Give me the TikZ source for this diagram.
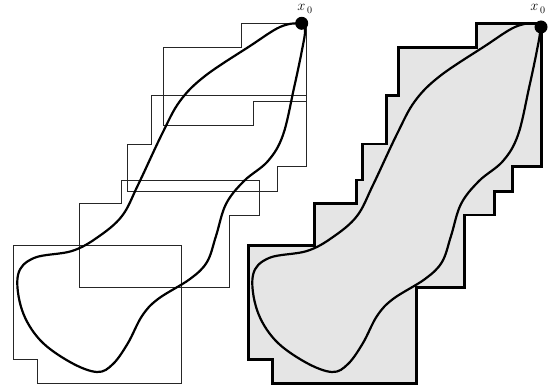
\documentclass[tikz,border=0pt]{standalone}
\usetikzlibrary{calc}
\tikzset{
  thinbox/.style={draw=black!85, line width=0.9pt},
  region/.style={draw=black, line width=2.6pt, fill=black!10, line join=miter},
  curve/.style={draw=black, line width=2.2pt},
  dotnode/.style={circle, fill=black, inner sep=0pt, minimum size=13pt},
  lbl/.style={inner sep=0pt, font=\Large, anchor=base},
  blob/.pic={
    \draw[curve] plot[smooth cycle, tension=0.6] coordinates {
      (300,23.5) (280,27) (250,46) (205,76) (180,101) (162,134) (138,185)
      (122,216) (98,237) (72,251) (34,258) (18,275) (22,310) (40,340)
      (70,362) (97,372) (113,364) (128,343) (142,316) (158,299) (190,279)
      (207,262) (216,236) (226,204) (244,181) (268,161) (283,135) (294,88)
      (302,50) (305,30)};
  }
}
\begin{document}
\begin{tikzpicture}[x=1pt, y=-1pt]
\useasboundingbox (0,0) rectangle (548,390);
% left: covering boxes
\draw[thinbox] (163.3,47.3) -- (241.7,47.3) -- (241.7,23.3) -- (306.7,23.3)
  -- (306.7,101.7) -- (253.3,101.7) -- (253.3,125.7) -- (163.3,125.7) -- cycle;
\draw[thinbox] (151.7,95.7) -- (306.7,95.7) -- (306.7,166.7) -- (277.3,166.7)
  -- (277.3,191.7) -- (127.7,191.7) -- (127.7,144) -- (151.7,144) -- cycle;
\draw[thinbox] (121.7,180) -- (259.3,180) -- (259.3,215) -- (229.3,215)
  -- (229.3,287.3) -- (79.3,287.3) -- (79.3,203.3) -- (121.7,203.3) -- cycle;
\draw[thinbox] (13.3,245.7) -- (181.7,245.7) -- (181.7,383.3) -- (37.3,383.3)
  -- (37.3,359.3) -- (13.3,359.3) -- cycle;
\pic at (0,0) {blob};
\node[dotnode] (d1) at (301.7,23.3) {};
\node[lbl] (x0a) at (305,11) {$x_{\,0}$};
% right: union region
\begin{scope}[shift={(235,0)}]
\draw[region] (306.7,23.3) -- (306.7,166.7) -- (277.3,166.7) -- (277.3,191.7)
  -- (259.3,191.7) -- (259.3,215) -- (229.3,215) -- (229.3,287.3)
  -- (181.7,287.3) -- (181.7,383.3) -- (37.3,383.3) -- (37.3,359.3)
  -- (13.3,359.3) -- (13.3,245.7) -- (79.3,245.7) -- (79.3,203.3)
  -- (121.7,203.3) -- (121.7,180) -- (127.7,180) -- (127.7,144)
  -- (151.7,144) -- (151.7,95.7) -- (163.3,95.7) -- (163.3,47.3)
  -- (241.7,47.3) -- (241.7,23.3) -- cycle;
\pic at (0,0) {blob};
\node[dotnode] (d2) at (306,27) {};
\node[lbl] (x0b) at (303,11) {$x_{\,0}$};
\end{scope}
\end{tikzpicture}
\end{document}
